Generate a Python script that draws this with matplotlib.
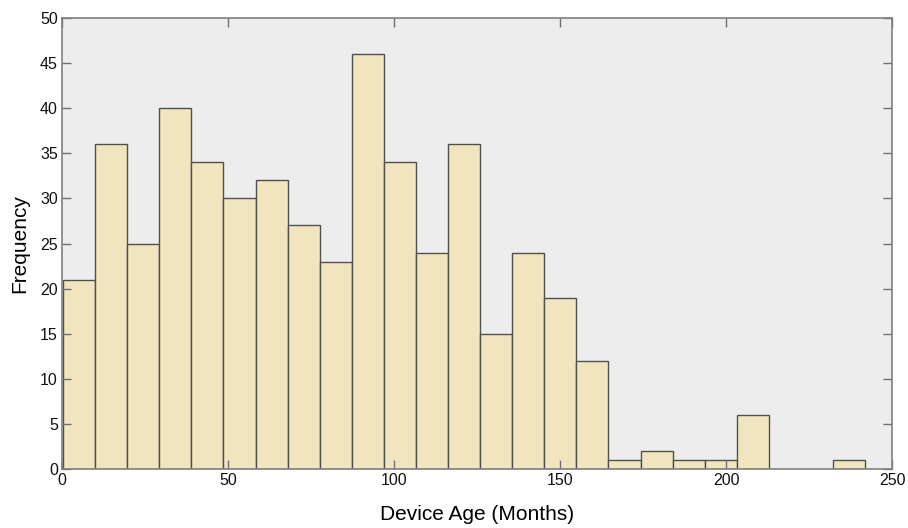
import numpy as np
import matplotlib
matplotlib.use("Agg")
import matplotlib.pyplot as plt

# Data
counts = [21, 36, 25, 40, 34, 30, 32, 27, 23, 46, 34, 24, 36, 15, 24, 19, 12,
          1, 2, 1, 1, 6, 0, 0, 1]
bin_start = 0.3
bin_end = 241.9
x_ticks = [0, 50, 100, 150, 200, 250]
y_ticks = list(range(0, 51, 5))

edges = np.linspace(bin_start, bin_end, len(counts) + 1)

plt.rcParams['font.family'] = ['Liberation Sans', 'DejaVu Sans']

fig = plt.figure(figsize=(9.08, 5.28), dpi=100)
ax = fig.add_axes([62/908, 1-469/528, (892-62)/908, (469-18)/528])
ax.set_facecolor('#EDEDED')

for left, w, h in zip(edges[:-1], np.diff(edges), counts):
    if h > 0:
        ax.bar(left, h, width=w, align='edge', color='#F1E5BF',
               edgecolor='#505050', linewidth=1.0)

ax.set_xlim(0, 250)
ax.set_ylim(0, 50)
ax.set_xticks(x_ticks)
ax.set_yticks(y_ticks)
ax.tick_params(direction='in', length=6.5, width=1.0, color='#707070',
               labelsize=11.5, top=True, right=True, labelcolor='#111111')
ax.tick_params(axis='x', pad=3)
ax.tick_params(axis='y', pad=3)
for s in ax.spines.values():
    s.set_color('#808080')
    s.set_linewidth(1.2)

ax.set_xlabel('Device Age (Months)', fontsize=15, labelpad=12)
ax.set_ylabel('Frequency', fontsize=15, labelpad=8)

fig.savefig('out.png', dpi=100)
